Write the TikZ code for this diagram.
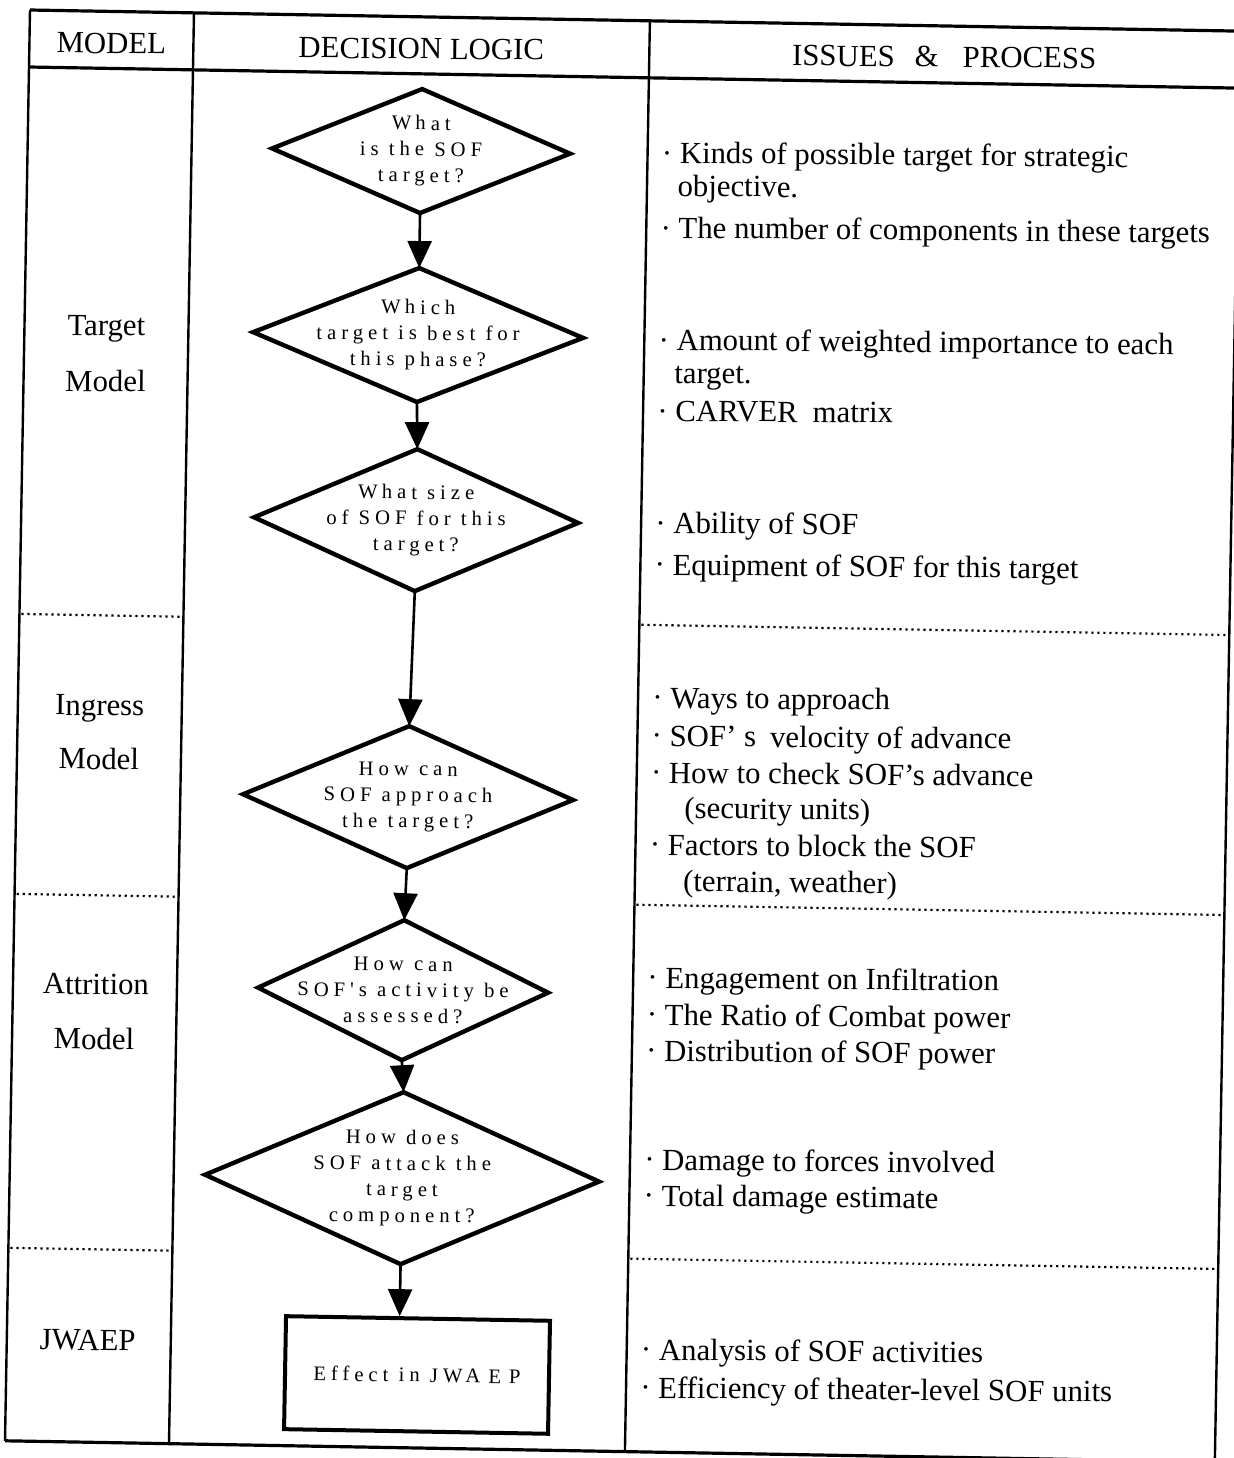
\documentclass[tikz,border=0pt]{standalone}
\usepackage{fontspec}
\setmainfont{Liberation Serif}
\newfontfamily\dfont[LetterSpace=24]{Liberation Serif}
\usetikzlibrary{shapes.geometric,arrows.meta}
\begin{document}
\begin{tikzpicture}[x=0.5pt,y=0.5pt,
  vrule/.style={line width=1.2pt},
  hrule/.style={line width=1.6pt},
  dotrow/.style={line width=1.1pt, dash pattern=on 1.1pt off 1.9pt},
  dia/.style={diamond, draw, line width=2.2pt, inner sep=0pt, outer sep=0pt},
  dtxt/.style={font=\dfont\fontsize{10.35}{13}\selectfont, align=center, inner sep=0pt, rotate=0.5},
  hdr/.style={font=\fontsize{15.4}{18}\selectfont, anchor=base, inner sep=0pt, rotate=0.5},
  itm/.style={font=\fontsize{15.4}{16.5}\selectfont, anchor=base west, inner sep=0pt, rotate=0.5},
  arr/.style={line width=1.3pt, -{Triangle[length=13.5pt,width=12pt]}},
  bx/.style={draw, rectangle, line width=2pt, inner sep=0pt, minimum width=132pt, minimum height=56.5pt, font=\dfont\fontsize{10.35}{13}\selectfont}
]
\useasboundingbox (0,0) rectangle (1233,-1458);
\begin{scope}[shift={(30,-10)}, rotate=-1, transform shape]
% table frame
\draw[hrule] (0,0) -- (1210,0);
\draw[hrule] (0,-57) -- (1210,-57);
\draw[hrule] (0,-1431) -- (1210,-1431);
\draw[vrule] (0,0) -- (0,-1431);
\draw[vrule] (164,0) -- (164,-1431);
\draw[vrule] (620,0) -- (620,-1431);
\draw[vrule] (1210,0) -- (1210,-1431);
\foreach \v in {604,884,1238} {
  \draw[dotrow] (2,-\v) -- (162,-\v);
  \draw[dotrow] (622,-\v) -- (1208,-\v);
}
% headers
\node[hdr] (hm) at (82,-42) {MODEL};
\node[hdr] (hd) at (392,-42) {DECISION LOGIC};
\node[hdr] (hi) at (915,-41) {ISSUES\hspace{10pt}\&\hspace{12pt}PROCESS};
% model labels
\node[hdr] (m1a) at (82,-324) {Target};
\node[hdr] (m1b) at (82,-380) {Model};
\node[hdr] (m2a) at (82,-704) {Ingress};
\node[hdr] (m2b) at (82,-758) {Model};
\node[hdr] (m3a) at (83,-983) {Attrition};
\node[hdr] (m3b) at (82,-1038) {Model};
\node[hdr] (m4) at (81,-1339) {JWAEP};
% decision logic
\node[dia, minimum width=149pt, minimum height=62pt] (d1) at (393.5,-134.2) {};
\node[dtxt] (t1) at (d1) {W\kern2pt hat\\is the SOF\\target?};
\node[dia, minimum width=165pt, minimum height=67pt] (d2) at (393.7,-318.2) {};
\node[dtxt] (t2) at (d2) {W\kern2pt hich\\target is best for\\this phase?};
\node[dia, minimum width=162pt, minimum height=71pt] (d3) at (394.9,-503.3) {};
\node[dtxt] (t3) at (d3) {W\kern2pt hat size\\of SOF for this\\target?};
\node[dia, minimum width=165pt, minimum height=71pt] (d4) at (391.7,-780.4) {};
\node[dtxt] (t4) at (d4) {How can\\SOF approach\\the target?};
\node[dia, minimum width=145pt, minimum height=70pt] (d5) at (390.1,-973.5) {};
\node[dtxt] (t5) at (d5) {How can\\SOF's activity be\\assessed?};
\node[dia, minimum width=197pt, minimum height=86pt] (d6) at (392.4,-1161.5) {};
\node[dtxt] (t6) at (d6) {How does\\SOF attack the\\target\\component?};
\node[bx] (bx) at (410.8,-1358) {Effect in JW\kern1.5pt A\kern4pt E\kern4pt P};
\draw[arr] (d1.south) -- (d2.north);
\draw[arr] (d2.south) -- (d3.north);
\draw[arr] (d3.south) -- (d4.north);
\draw[arr] (d4.south) -- (d5.north);
\draw[arr] (d5.south) -- (d6.north);
\draw[arr] (d6.south) -- (d6.south |- bx.north);
% issues & process
\node[itm] (i1) at (634,-142) {\begin{tabular}[t]{@{}l@{}}· Kinds of possible target for strategic\\\hspace*{8pt}objective.\end{tabular}};
\node[itm] (i3) at (634,-217) {· The number of components in these targets};
\node[itm] (i4) at (634,-329) {\begin{tabular}[t]{@{}l@{}}· Amount of weighted importance to each\\\hspace*{8pt}target.\end{tabular}};
\node[itm] (i6) at (634,-400) {· CARVER\hspace{7.5pt}matrix};
\node[itm] (i7) at (634,-512) {· Ability of SOF};
\node[itm] (i8) at (634,-554) {· Equipment of SOF for this target};
\node[itm] (i9) at (634,-687) {· Ways to approach};
\node[itm] (i10) at (634,-725) {· SOF' s\hspace{7pt}velocity of advance};
\node[itm] (i11) at (634,-762) {· How to check SOF's advance};
\node[itm] (i12) at (668,-797) {(security units)};
\node[itm] (i13) at (634,-834) {· Factors to block the SOF};
\node[itm] (i14) at (668,-870) {(terrain, weather)};
\node[itm] (i15) at (634,-967) {· Engagement on Infiltration};
\node[itm] (i16) at (634,-1004) {· The Ratio of Combat power};
\node[itm] (i17) at (634,-1040) {· Distribution of SOF power};
\node[itm] (i18) at (634,-1149) {· Damage to forces involved};
\node[itm] (i19) at (634,-1185) {· Total damage estimate};
\node[itm] (i20) at (634,-1339) {· Analysis of SOF activities};
\node[itm] (i21) at (634,-1377) {· Efficiency of theater-level SOF units};
\end{scope}
\end{tikzpicture}
\end{document}
